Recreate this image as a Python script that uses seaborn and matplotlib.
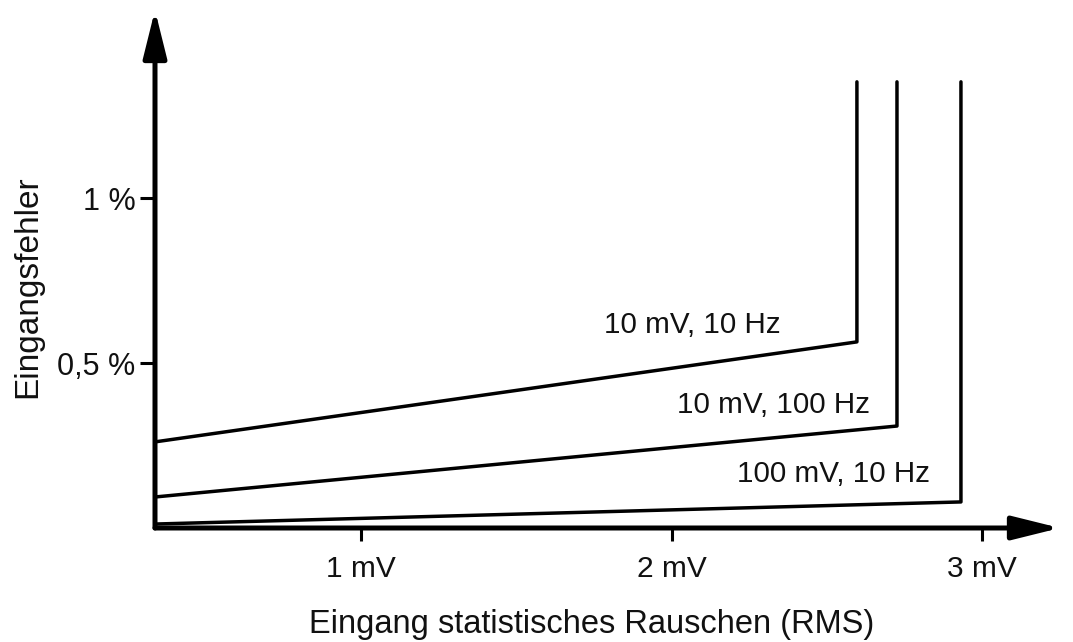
import pandas as pd
import matplotlib
matplotlib.use("Agg")
import matplotlib.pyplot as plt
import seaborn as sns

# =============================================================================
# Daten
# =============================================================================
SERIES = ["10 mV, 10 Hz", "10 mV, 100 Hz", "100 mV, 10 Hz"]
X_START = 0.337                       # mV, Ursprung der Achse
CORNER_X = [2.597, 2.726, 2.932]      # mV, Knick nach oben
START_Y = [0.261, 0.094, 0.012]       # %
CORNER_Y = [0.564, 0.309, 0.079]      # %
TOP_Y = 1.352                         # %
LABEL_X = [2.066, 2.327, 2.523]
LABEL_Y = [0.591, 0.348, 0.139]

X_TICKS = [1, 2, 3]
X_TICK_LABELS = ["1 mV", "2 mV", "3 mV"]
Y_TICKS = [0.5, 1.0]
Y_TICK_LABELS = ["0,5 %", "1 %"]

X_LIM = (0.3366, 3.251)
Y_LIM = (0, 1.5697)

# =============================================================================
# Plot
# =============================================================================
sns.set_theme(style="white")
plt.rcParams["font.family"] = ["Liberation Sans", "DejaVu Sans"]

rows = []
for name, cx, sy, cy in zip(SERIES, CORNER_X, START_Y, CORNER_Y):
    rows.append({"series": name, "order": 0, "x": X_START, "y": sy})
    rows.append({"series": name, "order": 1, "x": cx, "y": cy})
    rows.append({"series": name, "order": 2, "x": cx, "y": TOP_Y})
df = pd.DataFrame(rows)

fig = plt.figure(figsize=(10.73, 6.42), dpi=100)
ax = fig.add_axes([155 / 1073, 114 / 642, 905 / 1073, 518 / 642])

sns.lineplot(data=df, x="x", y="y", units="series", estimator=None,
             sort=False, color="black", linewidth=2.5, ax=ax)

for name, lx, ly in zip(SERIES, LABEL_X, LABEL_Y):
    ax.text(lx, ly, name, ha="center", va="baseline", fontsize=21.3,
            color="#111111")

ax.set_xlim(*X_LIM)
ax.set_ylim(*Y_LIM)
for s in ax.spines.values():
    s.set_visible(False)

# Achsen mit Pfeilspitzen
arrow = dict(arrowstyle="-|>,head_length=2.9,head_width=0.72", lw=3.6,
             color="black", shrinkA=0, shrinkB=0, mutation_scale=10)
ax.annotate("", xy=(0, 1), xytext=(0, 0), xycoords="axes fraction",
            arrowprops=arrow, annotation_clip=False)
ax.annotate("", xy=(1, 0), xytext=(0, 0), xycoords="axes fraction",
            arrowprops=arrow, annotation_clip=False)

ax.set_xticks(X_TICKS, X_TICK_LABELS)
ax.set_yticks(Y_TICKS, Y_TICK_LABELS)
ax.tick_params(axis="x", direction="out", length=9.5, width=2.2, pad=10,
               labelsize=21.5, colors="black", labelcolor="#111111",
               bottom=True)
ax.tick_params(axis="y", direction="out", length=11, width=2.2, pad=3,
               labelsize=22, colors="black", labelcolor="#111111", left=True)
ax.grid(False)

ax.set_xlabel("Eingang statistisches Rauschen (RMS)", fontsize=23.5,
              color="#111111")
ax.set_ylabel("Eingangsfehler", fontsize=24, color="#111111")
ax.xaxis.set_label_coords(0.482, -0.157)
ax.yaxis.set_label_coords(-0.124, 0.465)

fig.savefig("out.png", dpi=100, facecolor="white")
plt.close(fig)
